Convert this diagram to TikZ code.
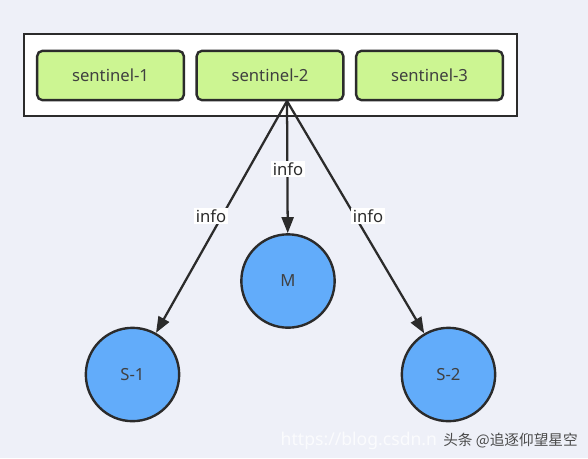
\documentclass[tikz,border=0pt]{standalone}
\usepackage{fontspec}
\setmainfont{Noto Sans}
\newfontfamily\cjk{Noto Sans CJK SC}
\usetikzlibrary{arrows.meta}
\definecolor{bgc}{HTML}{EEF0F8}
\definecolor{boxg}{HTML}{CCF592}
\definecolor{circb}{HTML}{62ACFA}
\definecolor{ink}{HTML}{2B2B2B}
\tikzset{
  sent/.style={draw=ink, line width=1.8pt, fill=boxg, rounded corners=4pt,
    minimum width=110pt, minimum height=37pt, font=\fontsize{12.5}{14}\selectfont, text=ink!90},
  srv/.style={circle, draw=ink, line width=1.8pt, fill=circb, minimum size=70pt,
    inner sep=0pt, font=\fontsize{12.5}{14}\selectfont, text=ink!90},
  conn/.style={draw=ink, line width=1.7pt, -{Triangle[length=12pt,width=9pt]}},
  lbl/.style={fill=white, inner sep=1pt, font=\fontsize{12.5}{14}\selectfont, text=ink}
}
\begin{document}
\begin{tikzpicture}[x=0.75pt,y=-0.75pt]
\fill[bgc] (0,0) rectangle (588,458);
\useasboundingbox (0,0) rectangle (588,458);
\draw[ink, line width=1.8pt, fill=white] (24,34) rectangle (517,116);
\node[sent] (s1) at (110.5,75.5) {sentinel-1};
\node[sent] (s2) at (270,75.5) {sentinel-2};
\node[sent] (s3) at (429.5,75.5) {sentinel-3};
\coordinate (src) at (287,101);
\node[srv] (m) at (288,281) {M};
\node[srv] (a) at (132.5,374.5) {S-1};
\node[srv] (b) at (448.5,374.5) {S-2};
\draw[conn] (src) -- (m);
\draw[conn] (src) -- (a);
\draw[conn] (src) -- (b);
\node[lbl] (l1) at (288,169) {info};
\node[lbl] (l2) at (211,216) {info};
\node[lbl] (l3) at (368,216) {info};
\node[text=white, opacity=0.75, font=\fontsize{13.2}{16}\selectfont, anchor=west] (wm) at (276,441) {https://blog.csdn.n};
\node[text=ink!85, font=\cjk\fontsize{11}{13}\selectfont, anchor=west, inner sep=0pt] (wm2) at (443,441) {头条 @追逐仰望星空};
\end{tikzpicture}
\end{document}
